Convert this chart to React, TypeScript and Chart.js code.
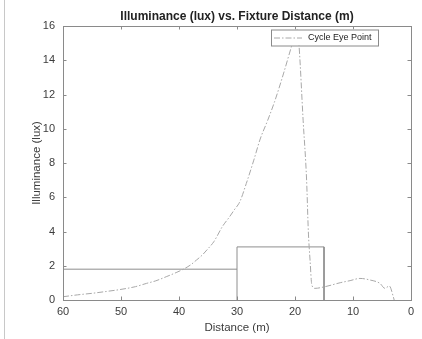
import React, { useEffect, useRef } from "react";
import { Chart, registerables } from "chart.js";

Chart.register(...registerables);

const distance = [60, 57.5, 55, 52.5, 50, 47.5, 45.6, 44, 42.2, 40.5, 39.3, 38, 37, 36, 35.2, 34, 33.5, 32.5, 31.3, 30.5, 29.5, 28.4, 27.1, 26, 24.7, 23.5, 22, 20.6, 19.6, 19.3, 18.6, 18.0, 17.7, 17.4, 17.1, 16.6, 14.8, 12.2, 10.5, 8.8, 7.1, 5.35, 4.5, 3.75, 3.05, 2.9];
const illuminance = [0.19, 0.3, 0.39, 0.5, 0.62, 0.78, 0.97, 1.12, 1.36, 1.6, 1.79, 2.05, 2.33, 2.62, 2.92, 3.4, 3.69, 4.3, 4.85, 5.25, 5.75, 6.8, 8.17, 9.4, 10.5, 11.6, 13.2, 14.8, 15.8, 14.84, 10.5, 7.0, 4.0, 2.3, 0.88, 0.68, 0.78, 1.01, 1.13, 1.26, 1.17, 0.97, 0.68, 0.82, 0.19, 0];

const levelX = [60, 30];
const levelY = [1.8, 1.8];
const boxX = [30, 30, 15, 15];
const boxY = [0, 3.1, 3.1, 0];

const xTicks = [0, 10, 20, 30, 40, 50, 60];
const yTicks = [0, 2, 4, 6, 8, 10, 12, 14, 16];

const seriesLabel = "Cycle Eye Point";
const chartTitle = "Illuminance (lux) vs. Fixture Distance (m)";
const xTitle = "Distance (m)";
const yTitle = "Illuminance (lux)";

const FONT = "'Liberation Sans', Arial, Helvetica, sans-serif";
const AXIS = "#8a8a8a";
const TEXT = "#3c3c3c";
const CURVE = "#a8a8a8";
const BOXC = "#8e8e8e";
const DASH = [6, 2, 1.5, 2];

const framePlugin = {
  id: "frame",
  afterDatasetsDraw(chart: any) {
    const { ctx, chartArea: a, scales } = chart;
    ctx.save();
    ctx.strokeStyle = AXIS;
    ctx.lineWidth = 1;
    ctx.strokeRect(Math.round(a.left) + 0.5, Math.round(a.top) + 0.5, Math.round(a.right - a.left), Math.round(a.bottom - a.top));
    ctx.beginPath();
    for (const v of xTicks) {
      const px = Math.round(scales.x.getPixelForValue(v)) + 0.5;
      ctx.moveTo(px, a.bottom);
      ctx.lineTo(px, a.bottom - 3.5);
      ctx.moveTo(px, a.top);
      ctx.lineTo(px, a.top + 3.5);
    }
    for (const v of yTicks) {
      const py = Math.round(scales.y.getPixelForValue(v)) + 0.5;
      ctx.moveTo(a.left, py);
      ctx.lineTo(a.left + 3.5, py);
      ctx.moveTo(a.right, py);
      ctx.lineTo(a.right - 3.5, py);
    }
    ctx.stroke();

    // legend
    const lx = 271, ly = 29.5, lw = 107, lh = 16;
    ctx.fillStyle = "#ffffff";
    ctx.fillRect(lx, ly, lw, lh);
    ctx.strokeStyle = AXIS;
    ctx.strokeRect(lx + 0.5, ly + 0.5, lw, lh);
    ctx.strokeStyle = CURVE;
    ctx.setLineDash(DASH);
    ctx.beginPath();
    ctx.moveTo(lx + 3, ly + 8.5);
    ctx.lineTo(lx + 31, ly + 8.5);
    ctx.stroke();
    ctx.setLineDash([]);
    ctx.fillStyle = "#222222";
    ctx.font = `9px ${FONT}`;
    ctx.textBaseline = "middle";
    ctx.textAlign = "left";
    ctx.fillText(seriesLabel, lx + 37, ly + 8.5);

    // title
    ctx.font = `bold 12px ${FONT}`;
    ctx.textAlign = "center";
    ctx.fillStyle = "#222222";
    ctx.fillText(chartTitle, (a.left + a.right) / 2, 17);
    ctx.restore();
  },
};

export default function App() {
  const ref = useRef<HTMLCanvasElement>(null);
  useEffect(() => {
    if (!ref.current) return;
    const chart = new Chart(ref.current, {
      type: "line",
      data: {
        datasets: [
          {
            label: seriesLabel,
            data: distance.map((x, i) => ({ x, y: illuminance[i] })),
            borderColor: CURVE,
            borderWidth: 1,
            borderDash: DASH,
            pointRadius: 0,
            cubicInterpolationMode: "monotone",
            fill: false,
          },
          {
            label: "level",
            data: levelX.map((x, i) => ({ x, y: levelY[i] })),
            borderColor: BOXC,
            borderWidth: 1,
            pointRadius: 0,
            tension: 0,
            fill: false,
          },
          {
            label: "box",
            data: boxX.map((x, i) => ({ x, y: boxY[i] })),
            borderColor: BOXC,
            borderWidth: 1,
            pointRadius: 0,
            tension: 0,
            fill: false,
          },
        ],
      },
      options: {
        responsive: false,
        animation: false,
        parsing: false as any,
        layout: { padding: { left: 0, right: 11, top: 26, bottom: 0 } },
        plugins: {
          legend: { display: false },
          title: { display: false },
          tooltip: { enabled: false },
        },
        scales: {
          x: {
            type: "linear",
            reverse: true,
            min: 0,
            max: 60,
            afterFit: (s: any) => { s.height = 39; },
            afterBuildTicks: (s: any) => { s.ticks = xTicks.map((v) => ({ value: v })); },
            grid: { display: false, drawTicks: false },
            border: { display: false },
            ticks: { color: TEXT, padding: 5, font: { size: 11, family: FONT }, maxRotation: 0 },
            title: { display: true, text: xTitle, color: TEXT, font: { size: 11.5, family: FONT }, padding: { top: 0, bottom: 4.5 } },
          },
          y: {
            type: "linear",
            min: 0,
            max: 16,
            afterFit: (s: any) => { s.width = 63; },
            afterBuildTicks: (s: any) => { s.ticks = yTicks.map((v) => ({ value: v })); },
            grid: { display: false, drawTicks: false },
            border: { display: false },
            ticks: { color: TEXT, padding: 8, font: { size: 11, family: FONT } },
            title: { display: true, text: yTitle, color: TEXT, font: { size: 11.5, family: FONT }, padding: { top: 30, bottom: 0 } },
          },
        },
      },
      plugins: [framePlugin],
    });
    return () => chart.destroy();
  }, []);
  return (
    <div style={{ position: "absolute", left: 0, top: 0, width: 422, height: 339, background: "#fff" }}>
      <div style={{ position: "absolute", left: 4, top: 0, width: 1, height: 339, background: "#c8c8c8" }} />
      <canvas ref={ref} width={422} height={339} style={{ position: "absolute", left: 0, top: 0 }} />
    </div>
  );
}
